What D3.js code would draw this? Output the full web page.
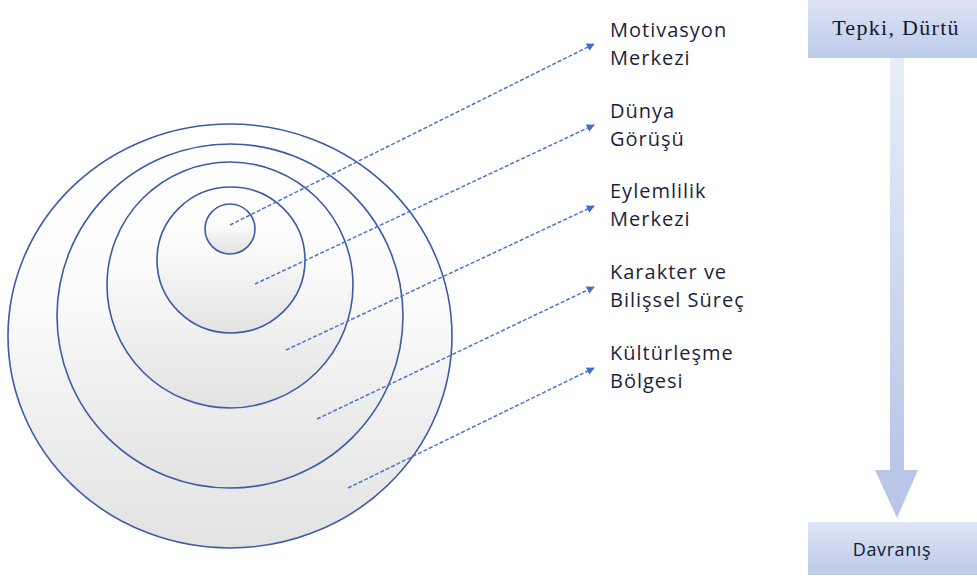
<!DOCTYPE html>
<html>
<head>
<meta charset="utf-8">
<script src="https://cdn.jsdelivr.net/npm/d3@7"></script>
<style>
  body { margin: 0; background: #fff; }
  svg { display: block; }
</style>
</head>
<body>
<svg id="chart" width="977" height="578"></svg>
<script>
// rings, outer to inner: centre and radii
const ringCx = [230, 230, 230, 231, 230];
const ringCy = [336, 316, 285, 260, 229];
const ringRx = [222, 173, 123, 74, 25];
const ringRy = [212, 172, 123, 73, 25];

// dashed pointers: start inside ring, end at label
const pointerFrom = [[230, 225], [255, 284], [286, 350], [317, 419], [348, 488]];
const pointerTo = [[594, 44], [594, 125], [594, 206], [594, 287], [594, 368]];

const labels = [
  ["Motivasyon", "Merkezi"],
  ["Dünya", "Görüşü"],
  ["Eylemlilik", "Merkezi"],
  ["Karakter ve", "Bilişsel Süreç"],
  ["Kültürleşme", "Bölgesi"]
];
const labelTop = [37, 118, 198, 279, 360];

const flowTop = "Tepki, Dürtü";
const flowBottom = "Davranış";

const svg = d3.select("#chart");
const defs = svg.append("defs");

const fill = defs.append("linearGradient")
    .attr("id", "ringFill")
    .attr("x1", 0).attr("y1", 0).attr("x2", 0).attr("y2", 1);
fill.append("stop").attr("offset", "0%").attr("stop-color", "#ffffff");
fill.append("stop").attr("offset", "40%").attr("stop-color", "#fcfcfc");
fill.append("stop").attr("offset", "100%").attr("stop-color", "#e2e2e2");

const boxFill = defs.append("linearGradient")
    .attr("id", "boxFill")
    .attr("x1", 0).attr("y1", 0).attr("x2", 0).attr("y2", 1);
boxFill.append("stop").attr("offset", "0%").attr("stop-color", "#dde4f4");
boxFill.append("stop").attr("offset", "100%").attr("stop-color", "#bccbe9");

const shaftFill = defs.append("linearGradient")
    .attr("id", "shaftFill")
    .attr("x1", 0).attr("y1", 0).attr("x2", 0).attr("y2", 1);
shaftFill.append("stop").attr("offset", "0%").attr("stop-color", "#e9edf8");
shaftFill.append("stop").attr("offset", "100%").attr("stop-color", "#b9c6e7");

defs.append("marker")
    .attr("id", "head")
    .attr("viewBox", "0 0 10 10")
    .attr("refX", 9).attr("refY", 5)
    .attr("markerWidth", 8).attr("markerHeight", 8)
    .attr("markerUnits", "userSpaceOnUse")
    .attr("orient", "auto")
  .append("path")
    .attr("d", "M0,0 L10,5 L0,10 Z")
    .attr("fill", "#3e6fc9");

svg.selectAll("ellipse.ring")
  .data(ringCx.map((cx, i) => ({cx, cy: ringCy[i], rx: ringRx[i], ry: ringRy[i]})))
  .enter().append("ellipse")
    .attr("class", "ring")
    .attr("cx", d => d.cx)
    .attr("cy", d => d.cy)
    .attr("rx", d => d.rx)
    .attr("ry", d => d.ry)
    .attr("fill", "url(#ringFill)")
    .attr("stroke", "#3a5ba8")
    .attr("stroke-width", 1.6);

svg.selectAll("line.pointer")
  .data(pointerFrom)
  .enter().append("line")
    .attr("class", "pointer")
    .attr("x1", d => d[0])
    .attr("y1", d => d[1])
    .attr("x2", (d, i) => pointerTo[i][0])
    .attr("y2", (d, i) => pointerTo[i][1])
    .attr("stroke", "#4a76cc")
    .attr("stroke-width", 1.5)
    .attr("stroke-dasharray", "4,2")
    .attr("marker-end", "url(#head)");

const label = svg.selectAll("text.label")
  .data(labels)
  .enter().append("text")
    .attr("class", "label")
    .attr("x", 610)
    .attr("y", (d, i) => labelTop[i])
    .attr("fill", "#1c1f3c")
    .style("font-family", "'Open Sans', 'Noto Sans', sans-serif")
    .style("font-size", "20px")
    .style("letter-spacing", "1px");

label.selectAll("tspan")
  .data(d => d)
  .enter().append("tspan")
    .attr("x", 610)
    .attr("dy", (d, i) => i === 0 ? 0 : 28)
    .text(d => d);

// right hand flow
svg.append("rect")
    .attr("x", 808).attr("y", 0)
    .attr("width", 169).attr("height", 58)
    .attr("fill", "url(#boxFill)");

svg.append("text")
    .attr("x", 896).attr("y", 35)
    .attr("text-anchor", "middle")
    .attr("fill", "#111a33")
    .style("font-family", "'Liberation Serif', 'DejaVu Serif', serif")
    .style("font-size", "22px")
    .style("letter-spacing", "1.3px")
    .text(flowTop);

svg.append("rect")
    .attr("x", 890).attr("y", 58)
    .attr("width", 14).attr("height", 412)
    .attr("fill", "url(#shaftFill)");

svg.append("path")
    .attr("d", d3.line()([[875, 470], [918, 470], [897, 518]]) + "Z")
    .attr("fill", "#b9c6e7");

svg.append("rect")
    .attr("x", 808).attr("y", 522)
    .attr("width", 169).attr("height", 53)
    .attr("fill", "url(#boxFill)");

svg.append("text")
    .attr("x", 892).attr("y", 556)
    .attr("text-anchor", "middle")
    .attr("fill", "#111a33")
    .style("font-family", "'Open Sans', 'Noto Sans', sans-serif")
    .style("font-size", "18px")
    .style("letter-spacing", "0.6px")
    .text(flowBottom);
</script>
</body>
</html>
